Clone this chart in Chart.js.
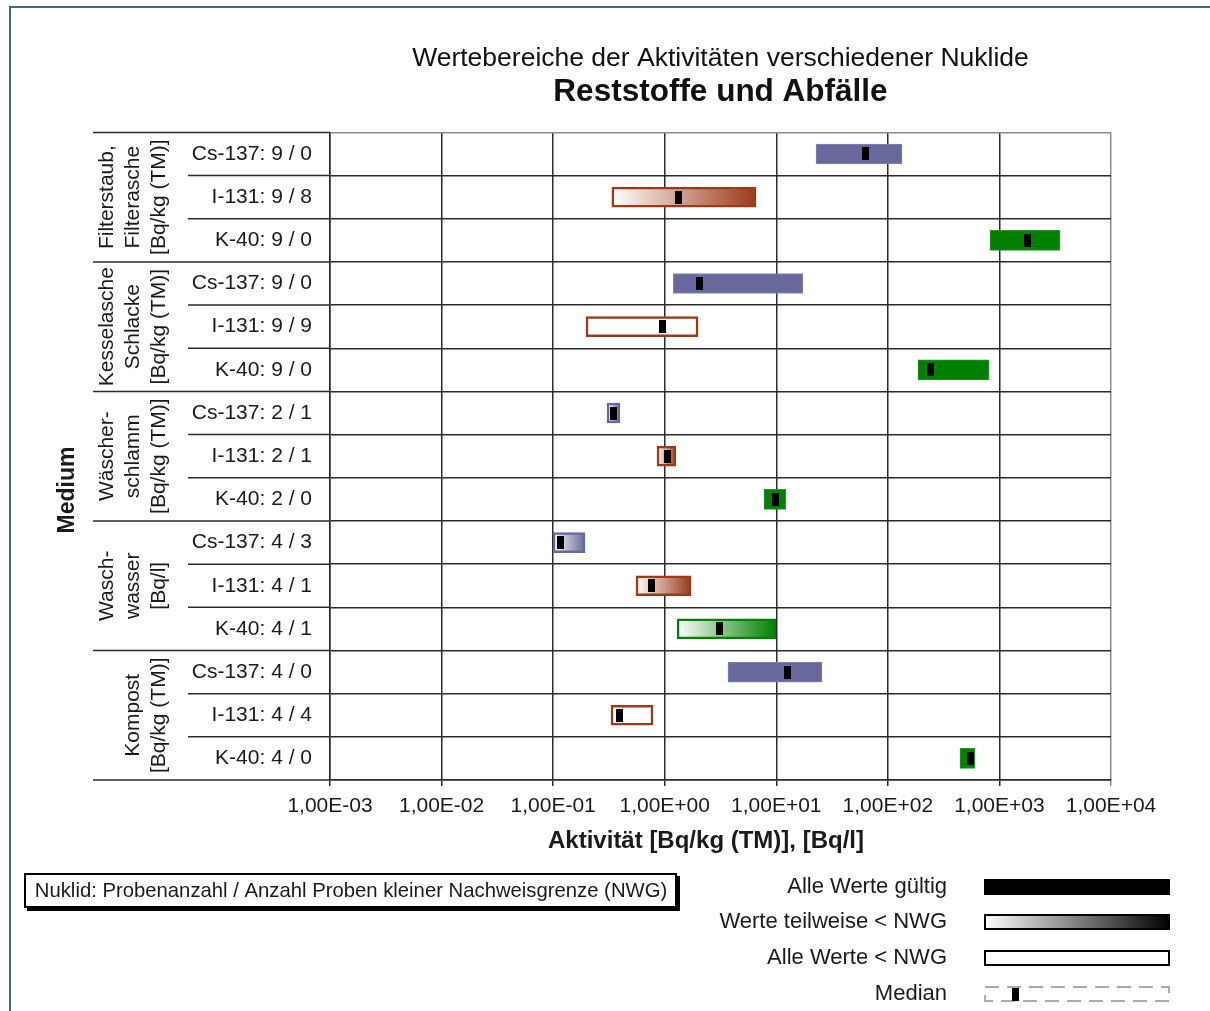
<!DOCTYPE html>
<html><head><meta charset="utf-8">
<script src="https://cdn.jsdelivr.net/npm/chart.js@4.4.0/dist/chart.umd.min.js"></script>
<style>html,body{margin:0;padding:0;background:#fff}canvas{display:block}</style>
</head><body>
<canvas id="c" width="1210" height="1011"></canvas>
<script>
const FONT = "'Liberation Sans', Arial, Helvetica, sans-serif";

// ---- data ----
const groupLabels = [
  ['Filterstaub,', 'Filterasche', '[Bq/kg (TM)]'],
  ['Kesselasche', 'Schlacke', '[Bq/kg (TM)]'],
  ['Wäscher-', 'schlamm', '[Bq/kg (TM)]'],
  ['Wasch-', 'wasser', '[Bq/l]'],
  ['Kompost', '[Bq/kg (TM)]']
];
const nuclides = ['Cs-137','I-131','K-40','Cs-137','I-131','K-40','Cs-137','I-131','K-40','Cs-137','I-131','K-40','Cs-137','I-131','K-40'];
const sampleCounts = [9,9,9, 9,9,9, 2,2,2, 4,4,4, 4,4,4];
const belowNWG     = [0,8,0, 0,9,0, 1,1,0, 3,1,1, 0,4,0];
const minValues = [22.7, 0.336, 824,  1.19, 0.197, 186,  0.304, 0.853, 7.76,  0.0998, 0.553, 1.29,  3.69, 0.330, 443];
const maxValues = [134,  6.58, 3490,  17.3, 1.99,  807,  0.397, 1.26,  12.2,  0.193,  1.72,  9.94,  25.7, 0.785, 604];
const medians   = [62.4, 1.34, 1803,  2.07, 0.946, 239,  0.351, 1.05,  9.75,  0.1175, 0.769, 3.07,  12.7, 0.397, 545];
const xTickValues = [1e-3, 1e-2, 1e-1, 1e0, 1e1, 1e2, 1e3, 1e4];
const xTickLabels = ['1,00E-03','1,00E-02','1,00E-01','1,00E+00','1,00E+01','1,00E+02','1,00E+03','1,00E+04'];
const legendItems = ['Alle Werte gültig', 'Werte teilweise < NWG', 'Alle Werte < NWG', 'Median'];
const noteText = 'Nuklid: Probenanzahl / Anzahl Proben kleiner Nachweisgrenze (NWG)';
const titleText = 'Wertebereiche der Aktivitäten verschiedener Nuklide';
const subtitleText = 'Reststoffe und Abfälle';
const xTitleText = 'Aktivität [Bq/kg (TM)], [Bq/l]';
const yTitleText = 'Medium';

// ---- styles ----
const nuclideColor = {'Cs-137':'#68689C','I-131':'#9B3A18','K-40':'#008000'};
const nuclideEdge  = {'Cs-137':'#8585B5','I-131':'#B5573A','K-40':'#2A962A'};
const rowLabels = nuclides.map((n,i)=>`${n}: ${sampleCounts[i]} / ${belowNWG[i]}`);
const ranges = minValues.map((v,i)=>[v, maxValues[i]]);

function barFill(ctx){
  const i = ctx.dataIndex; const c = nuclideColor[nuclides[i]];
  if (belowNWG[i] === 0) return c;
  if (belowNWG[i] === sampleCounts[i]) return '#ffffff';
  const chart = ctx.chart; const xs = chart.scales && chart.scales.x;
  if (!xs || !chart.chartArea) return c;
  const x0 = xs.getPixelForValue(minValues[i]), x1 = xs.getPixelForValue(maxValues[i]);
  const g = chart.ctx.createLinearGradient(x0, 0, x1, 0);
  g.addColorStop(0, '#ffffff'); g.addColorStop(1, c);
  return g;
}

const decor = {
  id: 'decor',
  beforeDraw(chart){
    const c = chart.ctx;
    c.save();
    c.fillStyle = '#fff'; c.fillRect(0,0,chart.width,chart.height);
    c.fillStyle = '#3C6A80';
    c.fillRect(10, 6, chart.width-10, 2);
    c.fillRect(9, 6, 2, chart.height-6);
    c.restore();
  },
  afterDatasetsDraw(chart){
    const c = chart.ctx, xs = chart.scales.x, ys = chart.scales.y, a = chart.chartArea;
    c.save();
    // median markers
    c.fillStyle = '#000';
    medians.forEach((m,i)=>{
      const x = xs.getPixelForValue(m), y = ys.getPixelForValue(i);
      c.fillRect(Math.round(x-3.5), Math.round(y-6.5), 7, 13);
    });
    // left extension lines
    c.strokeStyle = '#2b2b2b'; c.lineWidth = 1.5;
    const n = nuclides.length;
    for (let i=0;i<=n;i++){
      let y;
      if (i===0) y = a.top; else if (i===n) y = a.bottom;
      else y = (ys.getPixelForValue(i-1)+ys.getPixelForValue(i))/2;
      const x0 = (i%3===0) ? 93 : 188;
      c.beginPath(); c.moveTo(x0, y); c.lineTo(a.left, y); c.stroke();
    }
    // group labels
    c.fillStyle = '#1a1a1a'; c.font = `21px ${FONT}`; c.textAlign = 'center'; c.textBaseline = 'middle';
    groupLabels.forEach((lines,g)=>{
      const yc = (ys.getPixelForValue(g*3) + ys.getPixelForValue(g*3+2))/2;
      const lastX = 159, step = 26;
      lines.forEach((t,k)=>{
        const x = lastX - (lines.length-1-k)*step;
        c.save(); c.translate(x, yc); c.rotate(-Math.PI/2); c.fillText(t, 0, 0); c.restore();
      });
    });
    // y title
    c.font = `bold 23px ${FONT}`;
    c.save(); c.translate(68, 490); c.rotate(-Math.PI/2); c.fillText(yTitleText, 0, 0); c.restore();
    // x title
    c.font = `bold 24px ${FONT}`;
    c.fillText(xTitleText, 706, 841);
    // note box
    c.fillStyle = '#000'; c.fillRect(27, 876, 653, 35);
    c.fillStyle = '#fff'; c.fillRect(24, 873, 653, 35);
    c.strokeStyle = '#000'; c.lineWidth = 2; c.strokeRect(25, 874, 651, 33);
    c.fillStyle = '#1a1a1a'; c.font = `20.3px ${FONT}`;
    c.fillText(noteText, 351, 891);
    // right legend
    const ly = [887, 922, 958, 994];
    c.textAlign = 'right'; c.font = `22px ${FONT}`;
    legendItems.forEach((t,k)=> c.fillText(t, 947, ly[k]));
    const sx = 984, sw = 186, sh = 16;
    c.fillStyle = '#000'; c.fillRect(sx, ly[0]-sh/2, sw, sh);
    const g = c.createLinearGradient(sx, 0, sx+sw, 0);
    g.addColorStop(0,'#fff'); g.addColorStop(1,'#000');
    c.fillStyle = g; c.fillRect(sx, ly[1]-sh/2, sw, sh);
    c.strokeStyle = '#000'; c.lineWidth = 2; c.strokeRect(sx+1, ly[1]-sh/2+1, sw-2, sh-2);
    c.fillStyle = '#fff'; c.fillRect(sx, ly[2]-sh/2, sw, sh);
    c.strokeRect(sx+1, ly[2]-sh/2+1, sw-2, sh-2);
    c.strokeStyle = '#aaa'; c.setLineDash([14,8]); c.strokeRect(sx+1, ly[3]-sh/2+1, sw-2, sh-2); c.setLineDash([]);
    c.fillStyle = '#000'; c.fillRect(1012, ly[3]-6, 7, 13);
    c.restore();
  }
};

new Chart(document.getElementById('c'), {
  type: 'bar',
  data: {
    labels: rowLabels,
    datasets: [{
      data: ranges,
      backgroundColor: barFill,
      borderColor: ctx => belowNWG[ctx.dataIndex]===0 ? nuclideEdge[nuclides[ctx.dataIndex]] : nuclideColor[nuclides[ctx.dataIndex]],
      borderWidth: ctx => belowNWG[ctx.dataIndex]===0 ? 1 : 2.5,
      borderSkipped: false,
      barThickness: 20
    }]
  },
  options: {
    indexAxis: 'y',
    responsive: false, animation: false, devicePixelRatio: 1,
    layout: { padding: { left: 0, right: 99, top: 0, bottom: 0 } },
    plugins: {
      legend: { display: false }, tooltip: { enabled: false },
      title: { display: true, text: titleText, fullSize: false, color: '#111',
               font: { family: FONT, size: 26.5, weight: 'normal', lineHeight: 1.0 }, padding: { top: 45.75, bottom: 0 } },
      subtitle: { display: true, text: subtitleText, fullSize: false, color: '#111',
               font: { family: FONT, size: 31.5, weight: 'bold', lineHeight: 1.2 }, padding: { top: 0.85, bottom: 21.5 } }
    },
    scales: {
      x: {
        type: 'logarithmic', min: 1e-3, max: 1e4, position: 'bottom',
        afterBuildTicks: s => { s.ticks = xTickValues.map(v => ({ value: v })); },
        afterFit: s => { s.height = 231; },
        ticks: { autoSkip: false, maxRotation: 0, padding: 8, color: '#1a1a1a',
                 font: { family: FONT, size: 21 }, callback: (v, i) => xTickLabels[i] },
        grid: { color: ctx => ctx.index === xTickValues.length-1 ? '#8c8c8c' : '#2b2b2b', lineWidth: 1.5, tickLength: 6 },
        border: { display: true, color: '#2b2b2b', width: 1.5 }
      },
      y: {
        type: 'category', offset: true,
        afterFit: s => { s.width = 330; },
        ticks: { color: '#1a1a1a', padding: 18, font: { family: FONT, size: 21 } },
        grid: { offset: true, drawTicks: false, color: ctx => ctx.index === 0 ? '#8c8c8c' : '#2b2b2b', lineWidth: 1.5 },
        border: { display: true, color: '#2b2b2b', width: 1.5 }
      }
    }
  },
  plugins: [decor]
});
</script>
</body></html>
